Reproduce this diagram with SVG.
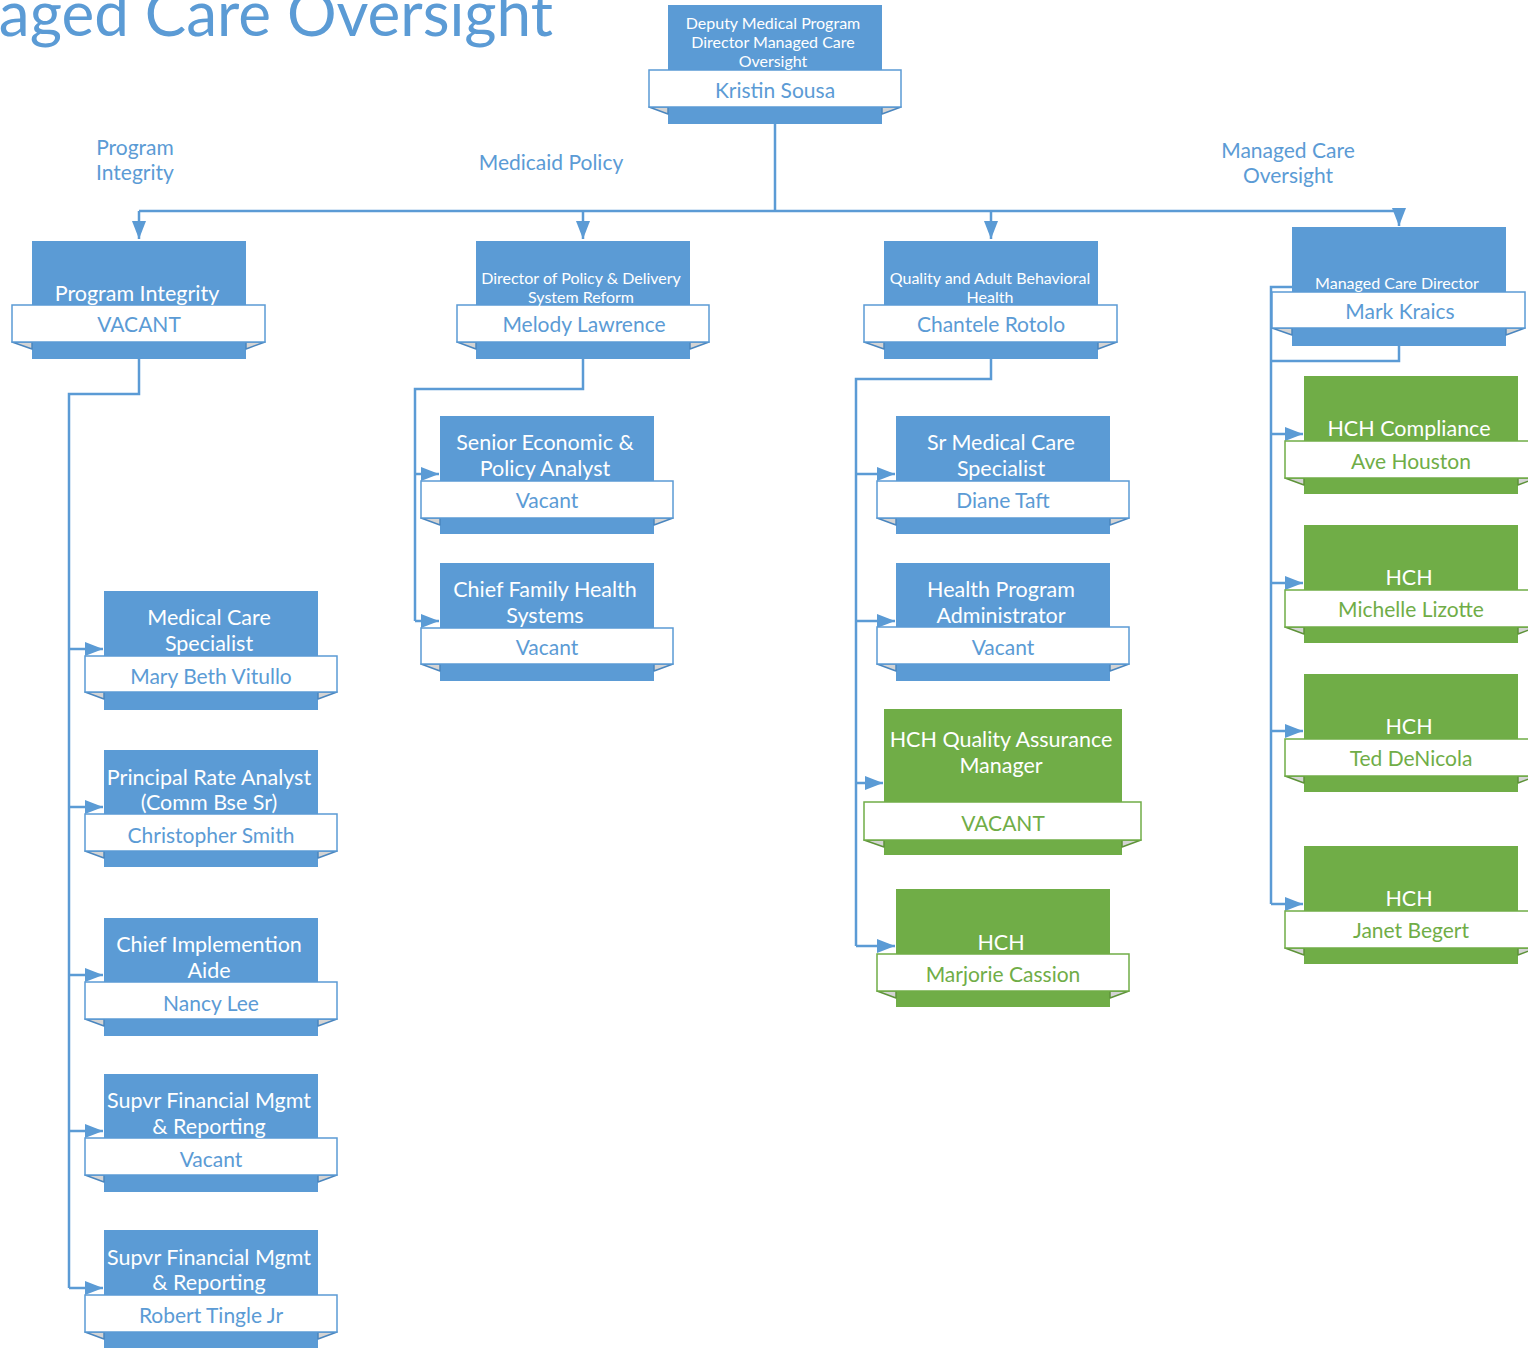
<svg xmlns="http://www.w3.org/2000/svg" width="1528" height="1350" viewBox="0 0 1528 1350">
<defs>
<style>
text{font-family:"Segoe UI","Lato","Noto Sans",sans-serif;text-anchor:middle;dominant-baseline:central}
.hdr{fill:#5B9BD5;font-size:62px;text-anchor:end;dominant-baseline:alphabetic}
.lbl{fill:#5B9BD5;font-size:21px}
.blue .body{fill:#5B9BD5}
.green .body{fill:#70AD47}
.banner{fill:#fff;stroke-width:1.5}
.blue .banner{stroke:#5B9BD5}
.green .banner{stroke:#70AD47}
.fold{fill:#D4D4D4;stroke-width:1.5;stroke-linejoin:round}
.blue .fold{stroke:#4A86BF}
.green .fold{stroke:#5E9339}
.t{fill:#fff;font-size:21.5px}
.ts{fill:#fff;font-size:16px}
.nm{font-size:21px}
.blue .nm{fill:#5B9BD5}
.green .nm{fill:#70AD47}
.conn path{fill:none;stroke:#5B9BD5;stroke-width:2.5}
.conn .a{marker-end:url(#ah)}
</style>
<marker id="ah" markerUnits="userSpaceOnUse" markerWidth="18" markerHeight="14" refX="18" refY="7" orient="auto">
<path d="M0,0 L18,7 L0,14 z" fill="#5B9BD5"/>
</marker>
</defs>
<rect width="1528" height="1350" fill="#fff"/>
<text class="hdr" x="553" y="36">Managed Care Oversight</text>
<text class="lbl" x="135" y="146">Program</text>
<text class="lbl" x="135" y="171">Integrity</text>
<text class="lbl" x="551" y="161">Medicaid Policy</text>
<text class="lbl" x="1288" y="149">Managed Care</text>
<text class="lbl" x="1288" y="174">Oversight</text>

<g class="conn">
<path d="M775,124 V211"/>
<path d="M139,211 H1399"/>
<path class="a" d="M139,211 V239"/>
<path class="a" d="M583,211 V239"/>
<path class="a" d="M991,211 V239"/>
<path class="a" d="M1399,211 V226"/>
<path d="M139,359 V394 H69 V1288"/>
<path class="a" d="M69,649 H103"/>
<path class="a" d="M69,807 H103"/>
<path class="a" d="M69,975 H103"/>
<path class="a" d="M69,1131 H103"/>
<path class="a" d="M69,1288 H103"/>
<path d="M583,359 V389 H415 V621"/>
<path class="a" d="M415,474 H439"/>
<path class="a" d="M415,621 H439"/>
<path d="M991,359 V379 H856 V946"/>
<path class="a" d="M856,474 H895"/>
<path class="a" d="M856,621 H895"/>
<path class="a" d="M856,783 H883"/>
<path class="a" d="M856,946 H895"/>
<path d="M1399,346 V361 H1271"/>
<path d="M1292,287 H1271 V904"/>
<path class="a" d="M1271,434 H1303"/>
<path class="a" d="M1271,583 H1303"/>
<path class="a" d="M1271,731 H1303"/>
<path class="a" d="M1271,904 H1303"/>
</g>

<g id="n-sousa" class="blue">
<rect class="body" x="668" y="5" width="214" height="119"/>
<polygon class="fold" points="649,107 668,107 668,114"/>
<polygon class="fold" points="901,107 882,107 882,114"/>
<rect class="banner" x="649" y="70" width="252" height="37"/>
<text class="ts" x="773" y="22">Deputy Medical Program</text>
<text class="ts" x="773" y="41">Director Managed Care</text>
<text class="ts" x="773" y="60">Oversight</text>
<text class="nm" x="775" y="89">Kristin Sousa</text>
</g>

<g id="n-pi" class="blue">
<rect class="body" x="32" y="241" width="214" height="118"/>
<polygon class="fold" points="12,342 32,342 32,349"/>
<polygon class="fold" points="265,342 246,342 246,349"/>
<rect class="banner" x="12" y="305" width="253" height="37"/>
<text class="t" x="137" y="293">Program Integrity</text>
<text class="nm" x="139" y="323">VACANT</text>
</g>

<g id="n-lawrence" class="blue">
<rect class="body" x="476" y="241" width="214" height="118"/>
<polygon class="fold" points="457,342 476,342 476,349"/>
<polygon class="fold" points="709,342 690,342 690,349"/>
<rect class="banner" x="457" y="305" width="252" height="37"/>
<text class="ts" x="581" y="277">Director of Policy &amp; Delivery</text>
<text class="ts" x="581" y="296">System Reform</text>
<text class="nm" x="584" y="323">Melody Lawrence</text>
</g>

<g id="n-rotolo" class="blue">
<rect class="body" x="884" y="241" width="214" height="118"/>
<polygon class="fold" points="864,342 884,342 884,349"/>
<polygon class="fold" points="1117,342 1098,342 1098,349"/>
<rect class="banner" x="864" y="305" width="253" height="37"/>
<text class="ts" x="990" y="277">Quality and Adult Behavioral</text>
<text class="ts" x="990" y="296">Health</text>
<text class="nm" x="991" y="323">Chantele Rotolo</text>
</g>

<g id="n-kraics" class="blue">
<rect class="body" x="1292" y="227" width="214" height="119"/>
<polygon class="fold" points="1272,328 1292,328 1292,335"/>
<polygon class="fold" points="1525,328 1506,328 1506,335"/>
<rect class="banner" x="1272" y="292" width="253" height="36"/>
<text class="ts" x="1397" y="282">Managed Care Director</text>
<text class="nm" x="1400" y="310">Mark Kraics</text>
</g>

<g id="n-vitullo" class="blue">
<rect class="body" x="104" y="591" width="214" height="119"/>
<polygon class="fold" points="85,692 104,692 104,699"/>
<polygon class="fold" points="337,692 318,692 318,699"/>
<rect class="banner" x="85" y="656" width="252" height="36"/>
<text class="t" x="209" y="617">Medical Care</text>
<text class="t" x="209" y="643">Specialist</text>
<text class="nm" x="211" y="675">Mary Beth Vitullo</text>
</g>

<g id="n-smith" class="blue">
<rect class="body" x="104" y="750" width="214" height="117"/>
<polygon class="fold" points="85,851 104,851 104,858"/>
<polygon class="fold" points="337,851 318,851 318,858"/>
<rect class="banner" x="85" y="814" width="252" height="37"/>
<text class="t" x="209" y="777">Principal Rate Analyst</text>
<text class="t" x="209" y="802">(Comm Bse Sr)</text>
<text class="nm" x="211" y="834">Christopher Smith</text>
</g>

<g id="n-lee" class="blue">
<rect class="body" x="104" y="918" width="214" height="118"/>
<polygon class="fold" points="85,1019 104,1019 104,1026"/>
<polygon class="fold" points="337,1019 318,1019 318,1026"/>
<rect class="banner" x="85" y="982" width="252" height="37"/>
<text class="t" x="209" y="944">Chief Implemention</text>
<text class="t" x="209" y="970">Aide</text>
<text class="nm" x="211" y="1002">Nancy Lee</text>
</g>

<g id="n-sfm1" class="blue">
<rect class="body" x="104" y="1074" width="214" height="118"/>
<polygon class="fold" points="85,1175 104,1175 104,1182"/>
<polygon class="fold" points="337,1175 318,1175 318,1182"/>
<rect class="banner" x="85" y="1138" width="252" height="37"/>
<text class="t" x="209" y="1100">Supvr Financial Mgmt</text>
<text class="t" x="209" y="1126">&amp; Reporting</text>
<text class="nm" x="211" y="1158">Vacant</text>
</g>

<g id="n-tingle" class="blue">
<rect class="body" x="104" y="1230" width="214" height="118"/>
<polygon class="fold" points="85,1332 104,1332 104,1339"/>
<polygon class="fold" points="337,1332 318,1332 318,1339"/>
<rect class="banner" x="85" y="1295" width="252" height="37"/>
<text class="t" x="209" y="1257">Supvr Financial Mgmt</text>
<text class="t" x="209" y="1282">&amp; Reporting</text>
<text class="nm" x="211" y="1314">Robert Tingle Jr</text>
</g>

<g id="n-senior" class="blue">
<rect class="body" x="440" y="416" width="214" height="118"/>
<polygon class="fold" points="421,518 440,518 440,525"/>
<polygon class="fold" points="673,518 654,518 654,525"/>
<rect class="banner" x="421" y="481" width="252" height="37"/>
<text class="t" x="545" y="442">Senior Economic &amp;</text>
<text class="t" x="545" y="468">Policy Analyst</text>
<text class="nm" x="547" y="499">Vacant</text>
</g>

<g id="n-cfhs" class="blue">
<rect class="body" x="440" y="563" width="214" height="118"/>
<polygon class="fold" points="421,664 440,664 440,671"/>
<polygon class="fold" points="673,664 654,664 654,671"/>
<rect class="banner" x="421" y="628" width="252" height="36"/>
<text class="t" x="545" y="589">Chief Family Health</text>
<text class="t" x="545" y="615">Systems</text>
<text class="nm" x="547" y="646">Vacant</text>
</g>

<g id="n-taft" class="blue">
<rect class="body" x="896" y="416" width="214" height="118"/>
<polygon class="fold" points="877,518 896,518 896,525"/>
<polygon class="fold" points="1129,518 1110,518 1110,525"/>
<rect class="banner" x="877" y="481" width="252" height="37"/>
<text class="t" x="1001" y="442">Sr Medical Care</text>
<text class="t" x="1001" y="468">Specialist</text>
<text class="nm" x="1003" y="499">Diane Taft</text>
</g>

<g id="n-hpa" class="blue">
<rect class="body" x="896" y="563" width="214" height="118"/>
<polygon class="fold" points="877,664 896,664 896,671"/>
<polygon class="fold" points="1129,664 1110,664 1110,671"/>
<rect class="banner" x="877" y="627" width="252" height="37"/>
<text class="t" x="1001" y="589">Health Program</text>
<text class="t" x="1001" y="615">Administrator</text>
<text class="nm" x="1003" y="646">Vacant</text>
</g>

<g id="n-hchqa" class="green">
<rect class="body" x="884" y="709" width="238" height="146"/>
<polygon class="fold" points="864,840 884,840 884,847"/>
<polygon class="fold" points="1141,840 1122,840 1122,847"/>
<rect class="banner" x="864" y="802" width="277" height="38"/>
<text class="t" x="1001" y="739">HCH Quality Assurance</text>
<text class="t" x="1001" y="765">Manager</text>
<text class="nm" x="1003" y="822">VACANT</text>
</g>

<g id="n-cassion" class="green">
<rect class="body" x="896" y="889" width="214" height="118"/>
<polygon class="fold" points="877,991 896,991 896,998"/>
<polygon class="fold" points="1129,991 1110,991 1110,998"/>
<rect class="banner" x="877" y="954" width="252" height="37"/>
<text class="t" x="1001" y="942">HCH</text>
<text class="nm" x="1003" y="973">Marjorie Cassion</text>
</g>

<g id="n-houston" class="green">
<rect class="body" x="1304" y="376" width="214" height="118"/>
<polygon class="fold" points="1285,478 1304,478 1304,485"/>
<polygon class="fold" points="1537,478 1518,478 1518,485"/>
<rect class="banner" x="1285" y="441" width="252" height="37"/>
<text class="t" x="1409" y="428">HCH Compliance</text>
<text class="nm" x="1411" y="460">Ave Houston</text>
</g>

<g id="n-lizotte" class="green">
<rect class="body" x="1304" y="525" width="214" height="118"/>
<polygon class="fold" points="1285,627 1304,627 1304,634"/>
<polygon class="fold" points="1537,627 1518,627 1518,634"/>
<rect class="banner" x="1285" y="590" width="252" height="37"/>
<text class="t" x="1409" y="577">HCH</text>
<text class="nm" x="1411" y="608">Michelle Lizotte</text>
</g>

<g id="n-denicola" class="green">
<rect class="body" x="1304" y="674" width="214" height="118"/>
<polygon class="fold" points="1285,776 1304,776 1304,783"/>
<polygon class="fold" points="1537,776 1518,776 1518,783"/>
<rect class="banner" x="1285" y="739" width="252" height="37"/>
<text class="t" x="1409" y="726">HCH</text>
<text class="nm" x="1411" y="757">Ted DeNicola</text>
</g>

<g id="n-begert" class="green">
<rect class="body" x="1304" y="846" width="214" height="118"/>
<polygon class="fold" points="1285,948 1304,948 1304,955"/>
<polygon class="fold" points="1537,948 1518,948 1518,955"/>
<rect class="banner" x="1285" y="911" width="252" height="37"/>
<text class="t" x="1409" y="898">HCH</text>
<text class="nm" x="1411" y="929">Janet Begert</text>
</g>
</svg>
